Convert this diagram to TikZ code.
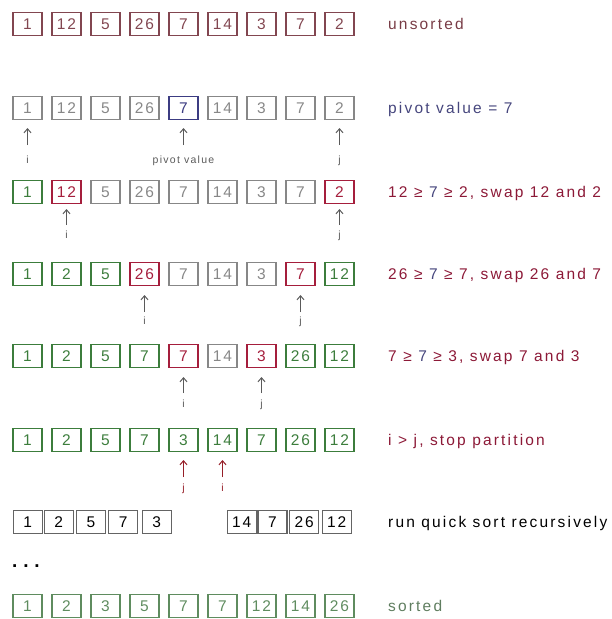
\documentclass[tikz,border=0pt]{standalone}
\usepackage{fontspec}
\setmainfont{Liberation Sans}[LetterSpace=13]
\newfontfamily\descfont{Liberation Sans}[LetterSpace=14]
\newfontfamily\smallfont{Liberation Sans}[LetterSpace=12]
\newfontfamily\plainfont{Liberation Sans}
\usetikzlibrary{arrows.meta}
\definecolor{cMaroon}{RGB}{130,70,80}
\definecolor{cGray}{RGB}{135,135,135}
\definecolor{cBlue}{RGB}{60,60,130}
\definecolor{cGreen}{RGB}{60,125,60}
\definecolor{cRed}{RGB}{165,30,60}
\definecolor{cSorted}{RGB}{95,140,95}
\definecolor{cBlack}{RGB}{100,100,100}
\definecolor{cArrow}{RGB}{90,90,90}
\definecolor{cArrowRed}{RGB}{150,30,40}
\definecolor{tMaroon}{RGB}{120,60,70}
\definecolor{tBlue}{RGB}{70,70,125}
\definecolor{tRed}{RGB}{140,25,55}
\definecolor{tSorted}{RGB}{95,125,95}
\tikzset{
  cell/.style={draw, minimum width=29pt, minimum height=23pt, inner sep=0pt,
    line width=1.1pt, font=\fontsize{15.5}{18}\selectfont},
  boxM/.style={cell, draw=cMaroon, text=cMaroon},
  boxY/.style={cell, draw=cGray, text=cGray},
  boxB/.style={cell, draw=cBlue, text=cBlue},
  boxG/.style={cell, draw=cGreen, text=cGreen},
  boxR/.style={cell, draw=cRed, text=cRed},
  boxS/.style={cell, draw=cSorted, text=cSorted},
  boxK/.style={cell, draw=cBlack, text=black, minimum width=29pt},
  ptr/.style={draw=cArrow, line width=1pt, -{Straight Barb[length=4pt,width=7pt]}},
  ptrR/.style={ptr, draw=cArrowRed},
  lab/.style={font=\smallfont\fontsize{10.5}{12}\selectfont, text=cArrow,
    text height=7.5pt, text depth=2pt, inner sep=1pt, anchor=north},
  labR/.style={lab, text=cArrowRed},
  desc/.style={anchor=base west, inner sep=0pt, font=\descfont\fontsize{15.5}{18}\selectfont}
}
\begin{document}
\begin{tikzpicture}[x=1pt,y=-1pt]
\useasboundingbox (0,0) rectangle (611,619);
% row 1
\foreach \v/\s [count=\k] in {1/M,12/M,5/M,26/M,7/M,14/M,3/M,7/M,2/M}
  \node[box\s] (r1c\k) at ({27.5+39*(\k-1)},24) {\v};
\node[desc, text=tMaroon] (t1) at (388,29) {unsorted};
% row 2
\foreach \v/\s [count=\k] in {1/Y,12/Y,5/Y,26/Y,7/B,14/Y,3/Y,7/Y,2/Y}
  \node[box\s] (r2c\k) at ({27.5+39*(\k-1)},108) {\v};
\node[desc, text=tBlue] (t2) at (388,113) {pivot value = 7};
\node[lab] (l2i) at (27.5,155) {i};
\node[lab] (l2p) at (183.5,155) {pivot value};
\node[lab] (l2j) at (339.5,155) {j};
\draw[ptr, shorten <=10pt, shorten >=8pt] (l2i.north) -- (r2c1.south);
\draw[ptr, shorten <=10pt, shorten >=8pt] (l2p.north) -- (r2c5.south);
\draw[ptr, shorten <=10pt, shorten >=8pt] (l2j.north) -- (r2c9.south);
% row 3
\foreach \v/\s [count=\k] in {1/G,12/R,5/Y,26/Y,7/Y,14/Y,3/Y,7/Y,2/R}
  \node[box\s] (r3c\k) at ({27.5+39*(\k-1)},192) {\v};
\node[desc, text=tRed] (t3) at (388,197) {12 ≥ {\color{tBlue}7} ≥ 2, swap 12 and 2};
\node[lab] (l3i) at (66.5,230) {i};
\node[lab] (l3j) at (339.5,230) {j};
\draw[ptr, shorten <=5pt, shorten >=5pt] (l3i.north) -- (r3c2.south);
\draw[ptr, shorten <=5pt, shorten >=5pt] (l3j.north) -- (r3c9.south);
% row 4
\foreach \v/\s [count=\k] in {1/G,2/G,5/G,26/R,7/Y,14/Y,3/Y,7/R,12/G}
  \node[box\s] (r4c\k) at ({27.5+39*(\k-1)},274) {\v};
\node[desc, text=tRed] (t4) at (388,279) {26 ≥ {\color{tBlue}7} ≥ 7, swap 26 and 7};
\node[lab] (l4i) at (144.5,316) {i};
\node[lab] (l4j) at (300.5,316) {j};
\draw[ptr, shorten <=4pt, shorten >=9pt] (l4i.north) -- (r4c4.south);
\draw[ptr, shorten <=4pt, shorten >=9pt] (l4j.north) -- (r4c8.south);
% row 5
\foreach \v/\s [count=\k] in {1/G,2/G,5/G,7/G,7/R,14/Y,3/R,26/G,12/G}
  \node[box\s] (r5c\k) at ({27.5+39*(\k-1)},356) {\v};
\node[desc, text=tRed] (t5) at (388,361) {7 ≥ {\color{tBlue}7} ≥ 3, swap 7 and 3};
\node[lab] (l5i) at (183.5,399) {i};
\node[lab] (l5j) at (261.5,399) {j};
\draw[ptr, shorten <=6pt, shorten >=9pt] (l5i.north) -- (r5c5.south);
\draw[ptr, shorten <=6pt, shorten >=9pt] (l5j.north) -- (r5c7.south);
% row 6
\foreach \v/\s [count=\k] in {1/G,2/G,5/G,7/G,3/G,14/G,7/G,26/G,12/G}
  \node[box\s] (r6c\k) at ({27.5+39*(\k-1)},440) {\v};
\node[desc, text=tRed] (t6) at (388,445) {i > j, stop partition};
\node[labR] (l6j) at (183.5,483) {j};
\node[labR] (l6i) at (222.5,483) {i};
\draw[ptrR, shorten <=6pt, shorten >=8pt] (l6j.north) -- (r6c5.south);
\draw[ptrR, shorten <=6pt, shorten >=8pt] (l6i.north) -- (r6c6.south);
% row 7
\foreach \v/\x [count=\k] in {1/27.7,2/58.8,5/91,7/123.3,3/156.7,14/241.7,7/272.5,26/304.2,12/336.7}
  \node[boxK] (r7c\k) at (\x,522) {\v};
\node[desc, text=black] (t7) at (388,527) {run quick sort recursively};
\node[anchor=base west, inner sep=0pt, font=\plainfont\bfseries\fontsize{19}{22}\selectfont] (dots) at (12,567) {.\hspace{5.8pt}.\hspace{5.8pt}.};
% row 8
\foreach \v/\s [count=\k] in {1/S,2/S,3/S,5/S,7/S,7/S,12/S,14/S,26/S}
  \node[box\s] (r8c\k) at ({27.5+39*(\k-1)},606) {\v};
\node[desc, text=tSorted] (t8) at (388,611) {sorted};
\end{tikzpicture}
\end{document}
